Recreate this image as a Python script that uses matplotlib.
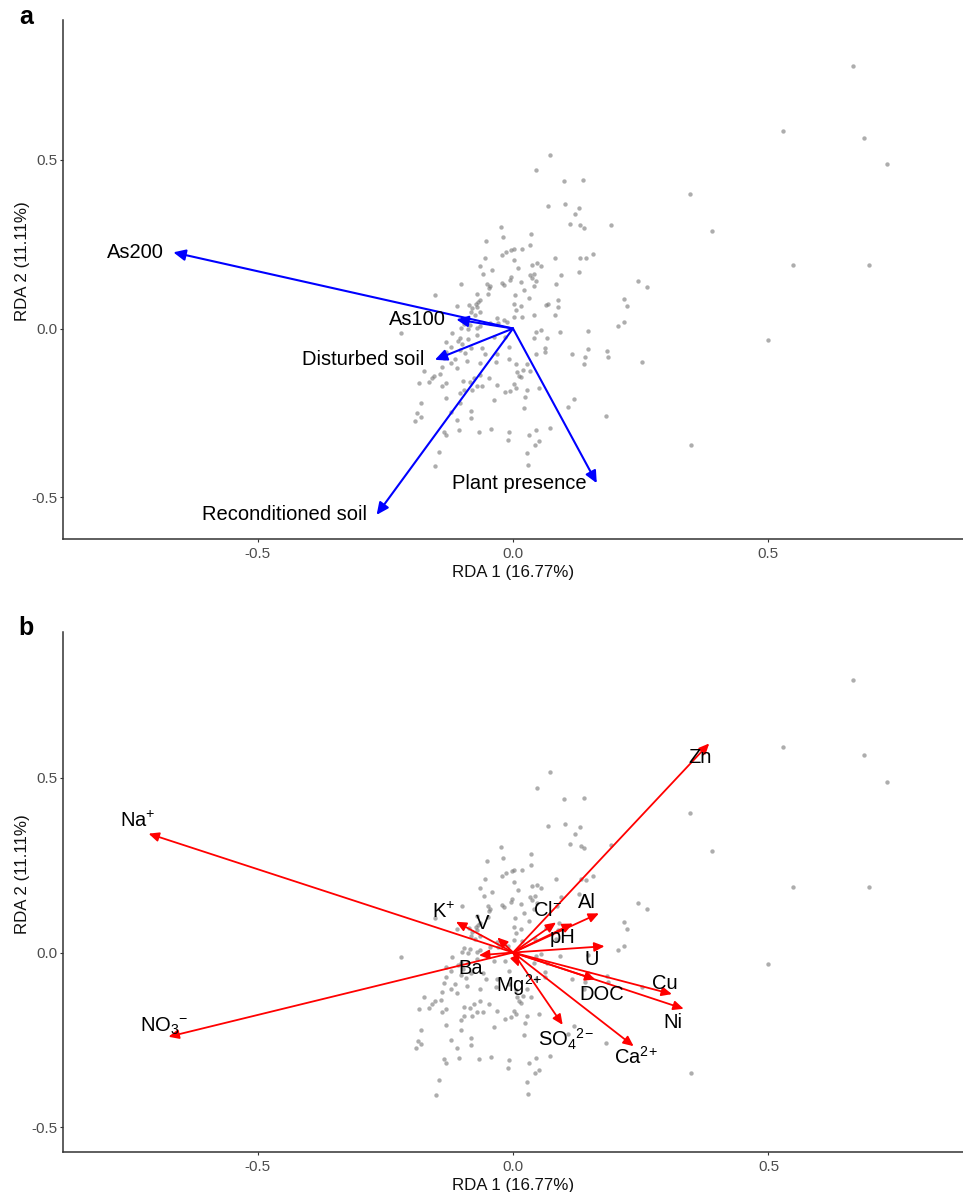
import matplotlib
matplotlib.use("Agg")
import matplotlib.pyplot as plt

plt.rcParams['font.family'] = ['Liberation Sans', 'DejaVu Sans']
plt.rcParams['mathtext.fontset'] = 'custom'
plt.rcParams['mathtext.rm'] = 'Liberation Sans'
plt.rcParams['mathtext.it'] = 'Liberation Sans:italic'
plt.rcParams['mathtext.bf'] = 'Liberation Sans:bold'

# ---------------- data ----------------
site_rda1 = [
    0.072, 0.046, 0.099, 0.138, 0.069, 0.101, 0.130, 0.121, 0.111, 0.132,
    0.139, 0.192, 0.035, 0.034, 0.018, 0.083, 0.132, 0.143, 0.156, 0.037,
    0.047, 0.055, 0.129, 0.033, 0.042, 0.037, 0.046, 0.093, 0.085, 0.041,
    0.021, 0.015, 0.244, 0.263, 0.218, 0.223, 0.032, 0.089, 0.088, 0.064,
    0.068, 0.015, 0.042, 0.083, -0.023, -0.019, -0.052, -0.055, -0.021, -0.014,
    -0.003, 0.002, 0.002, -0.065, -0.042, 0.010, -0.058, -0.003, -0.005, -0.021,
    -0.017, -0.050, -0.045, -0.047, -0.101, 0.004, -0.070, -0.049, -0.153, -0.064,
    -0.069, -0.073, 0.002, -0.109, -0.086, -0.080, -0.083, 0.005, -0.070, -0.064,
    -0.075, -0.031, -0.018, -0.011, -0.030, 0.002, 0.018, -0.046, -0.064, -0.070,
    -0.096, -0.085, -0.101, -0.088, -0.220, -0.119, -0.070, -0.038, -0.103, -0.108,
    -0.088, -0.132, -0.099, -0.121, -0.015, -0.008, -0.083, -0.103, -0.060, -0.093,
    -0.054, -0.031, -0.132, -0.135, -0.122, -0.113, -0.090, -0.064, -0.034, -0.008,
    0.005, 0.028, -0.109, -0.139, -0.175, -0.154, -0.158, -0.142, -0.184, -0.165,
    -0.132, -0.139, 0.008, 0.011, 0.015, -0.064, -0.077, -0.047, -0.097, -0.085,
    -0.070, -0.060, -0.080, -0.103, -0.096, -0.031, 0.002, 0.005, -0.005, -0.015,
    -0.181, -0.132, -0.038, 0.028, 0.024, -0.103, -0.121, -0.187, -0.181, -0.191,
    -0.083, -0.083, -0.109, 0.022, -0.135, -0.132, -0.106, -0.067, -0.044, -0.008,
    -0.010, -0.145, -0.152, 0.028, 0.030, 0.045, 0.055, 0.041, 0.066, 0.092,
    0.147, 0.206, 0.218, 0.062, 0.062, 0.045, 0.115, 0.147, 0.141, 0.139,
    0.184, 0.186, 0.253, 0.034, 0.020, 0.051, 0.120, 0.108, 0.182, 0.073,
    0.045, 0.032, 0.050, 0.043, 0.665, 0.529, 0.688, 0.733, 0.346, 0.390,
    0.549, 0.697, 0.500, 0.349,
]
site_rda2 = [
    0.515, 0.470, 0.438, 0.441, 0.363, 0.369, 0.358, 0.340, 0.311, 0.306,
    0.298, 0.307, 0.281, 0.249, 0.236, 0.210, 0.210, 0.208, 0.220, 0.189,
    0.193, 0.185, 0.168, 0.159, 0.162, 0.151, 0.141, 0.158, 0.132, 0.125,
    0.113, 0.139, 0.142, 0.124, 0.088, 0.067, 0.091, 0.085, 0.063, 0.069,
    0.072, 0.067, 0.040, 0.040, 0.301, 0.271, 0.261, 0.210, 0.218, 0.226,
    0.234, 0.237, 0.202, 0.185, 0.174, 0.180, 0.162, 0.152, 0.145, 0.136,
    0.129, 0.132, 0.125, 0.119, 0.132, 0.099, 0.103, 0.102, 0.099, 0.084,
    0.078, 0.074, 0.074, 0.068, 0.070, 0.060, 0.048, 0.056, 0.065, 0.048,
    0.040, 0.030, 0.025, 0.020, 0.015, 0.035, 0.033, 0.015, 0.008, 0.001,
    0.012, 0.010, 0.001, -0.001, -0.014, -0.014, -0.019, -0.024, -0.029, -0.037,
    -0.031, -0.041, -0.047, -0.054, -0.024, -0.054, -0.059, -0.064, -0.059, -0.074,
    -0.077, -0.077, -0.069, -0.088, -0.103, -0.090, -0.096, -0.103, -0.100, -0.090,
    -0.106, -0.104, -0.116, -0.113, -0.126, -0.140, -0.146, -0.136, -0.163, -0.160,
    -0.163, -0.170, -0.128, -0.140, -0.145, -0.138, -0.146, -0.148, -0.156, -0.160,
    -0.170, -0.170, -0.182, -0.192, -0.183, -0.168, -0.166, -0.177, -0.185, -0.189,
    -0.222, -0.207, -0.212, -0.182, -0.202, -0.222, -0.249, -0.252, -0.262, -0.274,
    -0.245, -0.266, -0.272, -0.237, -0.306, -0.316, -0.302, -0.306, -0.298, -0.308,
    -0.330, -0.366, -0.408, -0.370, -0.405, -0.011, -0.005, -0.029, -0.029, -0.009,
    -0.007, 0.008, 0.020, -0.057, -0.071, -0.075, -0.077, -0.060, -0.085, -0.104,
    -0.068, -0.085, -0.100, -0.127, -0.123, -0.177, -0.210, -0.233, -0.259, -0.296,
    -0.302, -0.315, -0.335, -0.346, 0.779, 0.587, 0.566, 0.489, 0.399, 0.290,
    0.187, 0.188, -0.034, -0.345,
]

# panel a: treatment vectors
treat_names = ["As200", "As100", "Disturbed soil", "Reconditioned soil", "Plant presence"]
treat_rda1 = [-0.665, -0.111, -0.153, -0.267, 0.164]
treat_rda2 = [0.226, 0.027, -0.093, -0.553, -0.459]

# panel b: environmental vectors
env_names = ["Zn", "Al", "pH", r"Cl$^{-}$", "U", "Cu", "Ni", "DOC", r"Ca$^{2}$$^{+}$",
             r"SO$_4$$^{2}$$^{-}$", r"Mg$^{2}$$^{+}$", "Ba", "V", r"K$^{+}$", r"Na$^{+}$",
             r"NO$_3$$^{-}$"]
env_rda1 = [0.384, 0.168, 0.117, 0.084, 0.179, 0.311, 0.334, 0.161, 0.236,
            0.097, 0.011, -0.067, -0.031, -0.112, -0.714, -0.675]
env_rda2 = [0.598, 0.112, 0.083, 0.086, 0.018, -0.119, -0.161, -0.077, -0.268,
            -0.207, -0.041, -0.008, 0.043, 0.088, 0.340, -0.241]

x_ticks = [-0.5, 0.0, 0.5]
y_ticks = [-0.5, 0.0, 0.5]
x_title = "RDA 1 (16.77%)"
y_title = "RDA 2 (11.11%)"

# label offsets for panel b (pixels, +y = down)
env_label_off_px = [(-9, 14), (-12, -11), (-10, 14), (-9, -12), (-13, 13), (-7, -11),
                    (-11, 14), (6, 15), (2, 11), (3, 15), (0, 18), (-8, 13),
                    (-15, -14), (-12, -10), (-11, -13), (-4, -10)]

# ---------------- figure ----------------
W, H = 963, 1192
fig = plt.figure(figsize=(W / 100, H / 100), dpi=100)
ax_a = fig.add_axes([63 / W, 1 - 539 / H, 900 / W, 519 / H])
ax_b = fig.add_axes([63.3 / W, 1 - 1152.3 / H, 899.7 / W, 520.3 / H])

PT = 0.72  # points per pixel at dpi 100


def style_axes(ax, ylim):
    ax.set_xlim(-0.881, 0.881)
    ax.set_ylim(*ylim)
    for s in ["top", "right"]:
        ax.spines[s].set_visible(False)
    for s in ["left", "bottom"]:
        ax.spines[s].set_color("#333333")
        ax.spines[s].set_linewidth(1.1)
    ax.set_xticks(x_ticks)
    ax.set_yticks(y_ticks)
    ax.set_xticklabels([f"{v:.1f}" for v in x_ticks])
    ax.set_yticklabels([f"{v:.1f}" for v in y_ticks])
    ax.tick_params(axis="both", length=2.5, width=0.8, color="#333333",
                   labelsize=11, labelcolor="#4d4d4d")
    ax.tick_params(axis="x", pad=3)
    ax.tick_params(axis="y", pad=1.5)
    ax.set_xlabel(x_title, fontsize=12.2, color="#111111", labelpad=3)
    ax.set_ylabel(y_title, fontsize=12.2, color="#111111")
    ax.yaxis.set_label_coords(-33 / 900, 0.535)
    ax.scatter(site_rda1, site_rda2, s=10, color="#777777", alpha=0.6,
               linewidths=0, zorder=2)


style_axes(ax_a, (-0.6246, 0.9154))
style_axes(ax_b, (-0.5715, 0.9168))

# panel a arrows
for name, x, y in zip(treat_names, treat_rda1, treat_rda2):
    ax_a.annotate("", xy=(x, y), xytext=(0, 0),
                  arrowprops=dict(arrowstyle="-|>,head_length=0.6,head_width=0.28",
                                  mutation_scale=12, color="#0000ff", lw=1.5,
                                  shrinkA=0, shrinkB=0), zorder=3)
    ax_a.annotate(name, xy=(x, y), xytext=(-10 * PT, 0), textcoords="offset points",
                  ha="right", va="center", fontsize=14.5, color="black", zorder=4)

# panel b arrows
for name, x, y, (dx, dy) in zip(env_names, env_rda1, env_rda2, env_label_off_px):
    ax_b.annotate("", xy=(x, y), xytext=(0, 0),
                  arrowprops=dict(arrowstyle="-|>,head_length=0.55,head_width=0.25",
                                  mutation_scale=11, color="#ff0000", lw=1.3,
                                  shrinkA=0, shrinkB=0), zorder=3)
    ax_b.annotate(name, xy=(x, y), xytext=(dx * PT, -dy * PT), textcoords="offset points",
                  ha="center", va="center", fontsize=14.5, color="black", zorder=4)

fig.text(26 / W, 1 - 17 / H, "a", fontsize=18, fontweight="bold", ha="center", va="center")
fig.text(26 / W, 1 - 628 / H, "b", fontsize=18, fontweight="bold", ha="center", va="center")

fig.savefig("out.png", dpi=100, facecolor="white")
